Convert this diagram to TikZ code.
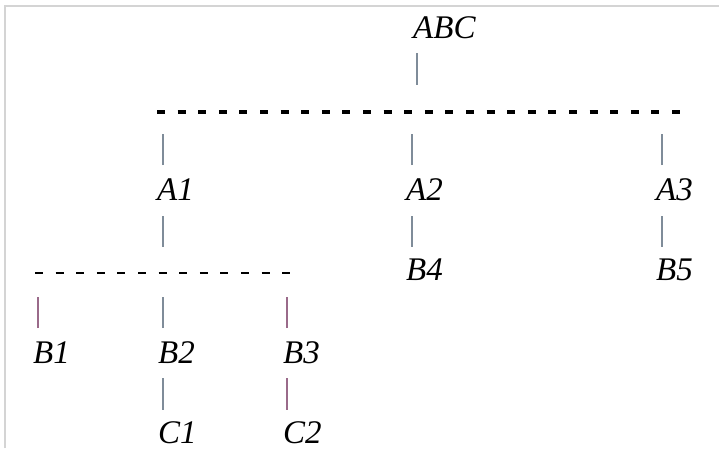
\documentclass[tikz,border=0pt]{standalone}
\usepackage{fontspec}
\setmainfont{Liberation Serif}
\definecolor{stemgray}{HTML}{7F8C99}
\definecolor{stemmauve}{HTML}{9A6A8A}
\definecolor{framegray}{HTML}{D4D4D4}
\begin{document}
\begin{tikzpicture}[x=1pt, y=1pt,
	every node/.style={anchor=base west, inner sep=0pt, font=\itshape\fontsize{33}{40}\selectfont},
	stem/.style={draw=stemgray, line width=2pt},
	mauvestem/.style={draw=stemmauve, line width=2pt},
	boldbar/.style={line width=4pt, dash pattern=on 8pt off 12.6pt},
	thinbar/.style={line width=2pt, dash pattern=on 8pt off 12.6pt}]
	\useasboundingbox (0,0) rectangle (719,-448);
	\draw[framegray, line width=1.2pt] (5,-448) -- (5,-6) -- (719,-6);
	% labels
	\node (abc) at (413,-38) {ABC};
	\node (a1) at (157,-200) {A1};
	\node (a2) at (406,-200) {A2};
	\node (a3) at (656,-200) {A3};
	\node (b4) at (406,-280) {B4};
	\node (b5) at (656,-280) {B5};
	\node (b1) at (33,-363) {B1};
	\node (b2) at (158,-363) {B2};
	\node (b3) at (283,-363) {B3};
	\node (c1) at (158,-443) {C1};
	\node (c2) at (283,-443) {C2};
	% bars
	\coordinate (topL) at (157,-112);
	\coordinate (topR) at (682,-112);
	\coordinate (lowL) at (35,-273);
	\coordinate (lowR) at (292,-273);
	\draw[boldbar] (topL) -- (topR);
	\draw[thinbar] (lowL) -- (lowR);
	% stems
	\draw[stem] ([shift={(4,-15)}]abc.base west) -- ++(0,-32);
	\foreach \n in {a1,a2,a3} {
		\draw[stem] ([shift={(6,35)}]\n.base west) -- ++(0,31);
		\draw[stem] ([shift={(6,-16)}]\n.base west) -- ++(0,-31);
	}
	\draw[mauvestem] ([shift={(5,35)}]b1.base west) -- ++(0,31);
	\draw[stem] ([shift={(5,35)}]b2.base west) -- ++(0,31);
	\draw[mauvestem] ([shift={(4,35)}]b3.base west) -- ++(0,31);
	\draw[stem] ([shift={(5,-15)}]b2.base west) -- ++(0,-32);
	\draw[mauvestem] ([shift={(4,-15)}]b3.base west) -- ++(0,-32);
\end{tikzpicture}
\end{document}
